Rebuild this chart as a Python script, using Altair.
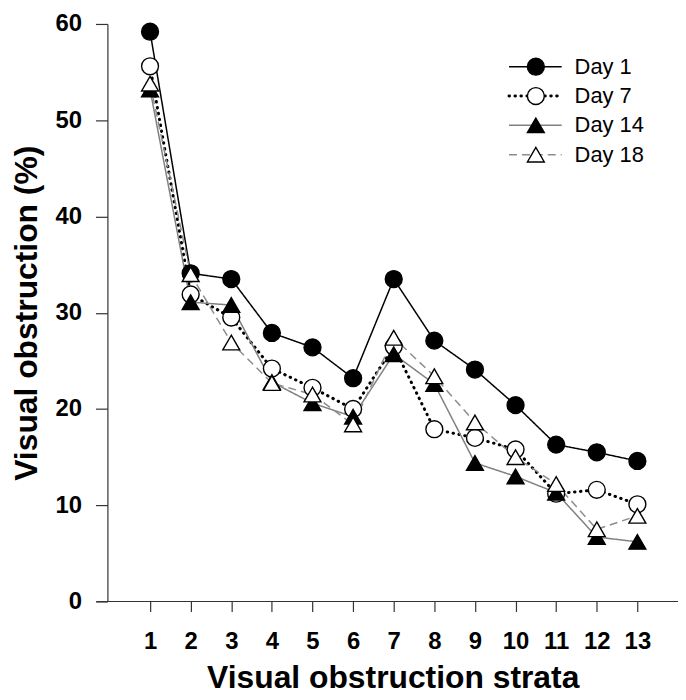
import altair as alt
import pandas as pd

strata = list(range(1, 14))
series = ["Day 1", "Day 7", "Day 14", "Day 18"]
day1 = [59.2, 34.1, 33.5, 27.9, 26.4, 23.2, 33.5, 27.1, 24.1, 20.4, 16.3, 15.5, 14.6]
day7 = [55.6, 31.9, 29.5, 24.2, 22.2, 20.0, 26.5, 17.9, 17.0, 15.8, 11.2, 11.6, 10.1]
day14 = [53.2, 31.1, 30.8, 22.8, 20.6, 19.2, 25.7, 22.6, 14.4, 13.0, 11.3, 6.7, 6.2]
day18 = [53.8, 34.0, 26.9, 22.7, 21.5, 18.4, 27.4, 23.4, 18.6, 15.0, 12.2, 7.5, 8.9]
y_ticks = [0, 10, 20, 30, 40, 50, 60]

values = {"Day 1": day1, "Day 7": day7, "Day 14": day14, "Day 18": day18}

styles = {
    "Day 1": dict(line="black", lw=1.5, dash=[1, 0], cap="butt", shape="circle", fill="black"),
    "Day 7": dict(line="black", lw=3, dash=[0.5, 5.5], cap="round", shape="circle", fill="white"),
    "Day 14": dict(line="#808080", lw=1.5, dash=[1, 0], cap="butt", shape="triangle-up", fill="black"),
    "Day 18": dict(line="#8c8c8c", lw=1.5, dash=[8, 5], cap="butt", shape="triangle-up", fill="white"),
}

FONT = "Liberation Sans"
x_scale = alt.Scale(domain=[-0.05, 14], nice=False, zero=False)
y_scale = alt.Scale(domain=[0, 60], nice=False, zero=False)

x_axis = alt.Axis(
    values=strata, tickSize=10, domain=False, grid=False, tickColor="#333", tickWidth=1.2,
    labelFont=FONT, labelFontSize=24, labelFontWeight="bold", labelColor="black",
    labelPadding=18, labelAngle=0,
    title="Visual obstruction strata", titleFont=FONT, titleFontSize=32,
    titleFontWeight="bold", titleColor="black", titleBaseline="alphabetic", titleY=87,
)
y_axis = alt.Axis(
    values=y_ticks, tickSize=12, domain=True, domainColor="#333", domainWidth=1.2,
    grid=False, tickColor="#333", tickWidth=1.2,
    labelFont=FONT, labelFontSize=24, labelFontWeight="bold", labelColor="black",
    labelPadding=14,
    title="Visual obstruction (%)", titleFont=FONT, titleFontSize=32,
    titleFontWeight="bold", titleColor="black", titleBaseline="alphabetic", titleX=-71,
)

rows = []
for s in series:
    for xi, v in zip(strata, values[s]):
        rows.append({"series": s, "strata": xi, "value": v})
df = pd.DataFrame(rows)

X = alt.X("strata:Q", scale=x_scale, axis=x_axis)
Y = alt.Y("value:Q", scale=y_scale, axis=y_axis)

layers = []
for s in series:
    st = styles[s]
    d = df[df["series"] == s]
    layers.append(
        alt.Chart(d).mark_line(color=st["line"], strokeWidth=st["lw"], strokeDash=st["dash"],
                               strokeCap=st["cap"]).encode(x=X, y=Y)
    )

# x axis line (extends a little left of the y axis, as in the original)
axis_line = alt.Chart(pd.DataFrame({"a": [0]})).mark_rule(color="#333", strokeWidth=1.2).encode(
    x=alt.datum(-0.32), x2=alt.datum(14), y=alt.datum(0),
)
layers.append(axis_line)

for s in series:
    st = styles[s]
    d = df[df["series"] == s]
    layers.append(
        alt.Chart(d).mark_point(shape=st["shape"], size=289, filled=True, fill=st["fill"],
                                stroke="black", strokeWidth=1.4, opacity=1, fillOpacity=1).encode(x=X, y=Y)
    )

# manual legend
for i, s in enumerate(series):
    st = styles[s]
    ly = 43 + 29.5 * i
    ldf = pd.DataFrame({"series": [s]})
    layers.append(
        alt.Chart(ldf).mark_rule(color=st["line"], strokeWidth=st["lw"], strokeDash=st["dash"],
                                 strokeCap=st["cap"]).encode(
            x=alt.value(404), x2=alt.value(457), y=alt.value(ly)
        )
    )
    layers.append(
        alt.Chart(ldf).mark_point(shape=st["shape"], size=289, filled=True, fill=st["fill"],
                                  stroke="black", strokeWidth=1.4, opacity=1, fillOpacity=1).encode(
            x=alt.value(431), y=alt.value(ly)
        )
    )
    layers.append(
        alt.Chart(ldf).mark_text(align="left", baseline="middle", font=FONT, fontSize=22,
                                 color="black").encode(
            x=alt.value(470), y=alt.value(ly), text="series:N"
        )
    )

chart = alt.layer(*layers).properties(
    width=574, height=581,
    background="white",
    autosize=alt.AutoSizeParams(type="none"),
    padding={"left": 100, "top": 14, "right": 0, "bottom": 95},
).configure_view(stroke=None)

chart.save("out.html", embed_options={"renderer": "svg", "actions": False})
